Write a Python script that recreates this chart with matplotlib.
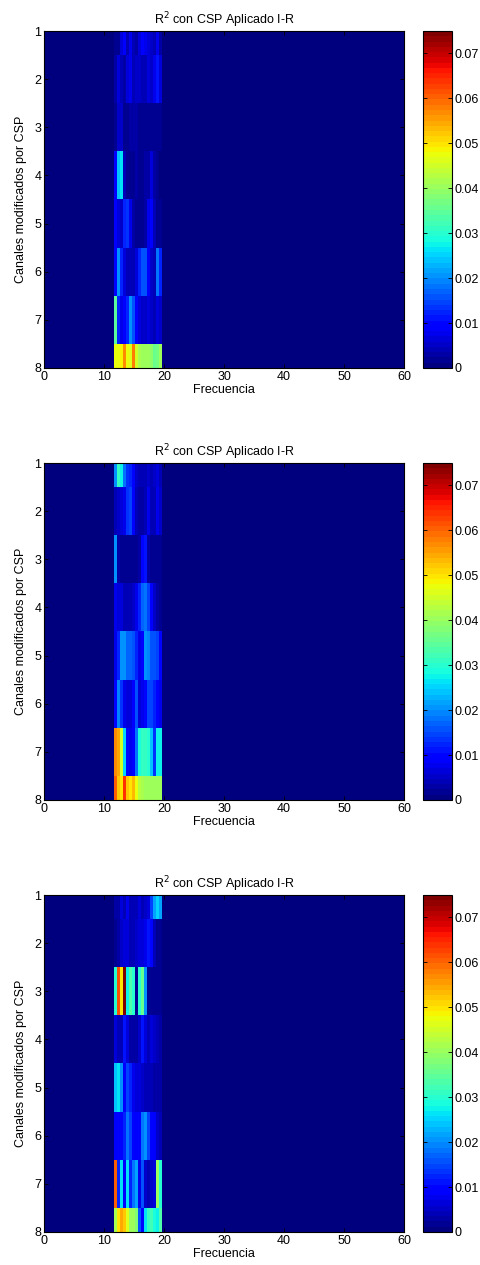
import numpy as np
import matplotlib
matplotlib.use('Agg')
import matplotlib.pyplot as plt

plt.rcParams['font.family'] = ['Liberation Sans', 'DejaVu Sans']
plt.rcParams['font.size'] = 9

# Frecuencias (resolucion 0.5 Hz) y canales
freqs = np.arange(0, 60.5, 0.5)
canales = [1, 2, 3, 4, 5, 6, 7, 8]
banda_inicio = 12.0   # primera frecuencia con valores de R^2

# Valores de R^2 en la banda 12 - 19.5 Hz (16 columnas) por canal
r2_panel1 = [
    [0.002, 0.002, 0.007, 0.009, 0.004, 0.008, 0.004, 0.003, 0.006, 0.009, 0.008, 0.006, 0.005, 0.004, 0.008, 0.003],
    [0.003, 0.007, 0.004, 0.003, 0.006, 0.008, 0.004, 0.005, 0.005, 0.004, 0.004, 0.006, 0.005, 0.008, 0.011, 0.006],
    [0.002, 0.005, 0.005, 0.002, 0.002, 0.003, 0.003, 0.003, 0.002, 0.002, 0.002, 0.002, 0.002, 0.002, 0.002, 0.002],
    [0.010, 0.024, 0.026, 0.004, 0.002, 0.002, 0.002, 0.003, 0.002, 0.002, 0.003, 0.003, 0.006, 0.003, 0.002, 0.001],
    [0.009, 0.007, 0.005, 0.012, 0.013, 0.008, 0.003, 0.002, 0.002, 0.002, 0.003, 0.008, 0.009, 0.004, 0.002, 0.002],
    [0.010, 0.020, 0.012, 0.006, 0.004, 0.004, 0.004, 0.006, 0.012, 0.016, 0.016, 0.009, 0.005, 0.004, 0.018, 0.012],
    [0.034, 0.012, 0.008, 0.009, 0.012, 0.020, 0.016, 0.009, 0.006, 0.005, 0.005, 0.006, 0.005, 0.004, 0.006, 0.005],
    [0.047, 0.048, 0.049, 0.057, 0.048, 0.046, 0.058, 0.045, 0.042, 0.041, 0.041, 0.040, 0.039, 0.036, 0.037, 0.040],
]
r2_panel2 = [
    [0.020, 0.031, 0.028, 0.018, 0.013, 0.012, 0.010, 0.005, 0.004, 0.004, 0.004, 0.005, 0.004, 0.005, 0.007, 0.004],
    [0.004, 0.005, 0.007, 0.008, 0.014, 0.015, 0.009, 0.004, 0.003, 0.003, 0.004, 0.008, 0.004, 0.004, 0.008, 0.005],
    [0.020, 0.003, 0.002, 0.002, 0.002, 0.002, 0.002, 0.002, 0.003, 0.010, 0.011, 0.003, 0.002, 0.002, 0.002, 0.002],
    [0.008, 0.007, 0.006, 0.004, 0.004, 0.004, 0.005, 0.008, 0.012, 0.017, 0.018, 0.015, 0.009, 0.005, 0.003, 0.002],
    [0.008, 0.012, 0.020, 0.021, 0.017, 0.017, 0.016, 0.012, 0.008, 0.009, 0.020, 0.019, 0.016, 0.016, 0.015, 0.010],
    [0.010, 0.019, 0.013, 0.008, 0.006, 0.006, 0.009, 0.016, 0.007, 0.008, 0.010, 0.015, 0.015, 0.012, 0.010, 0.008],
    [0.057, 0.054, 0.045, 0.025, 0.010, 0.008, 0.009, 0.018, 0.029, 0.031, 0.031, 0.030, 0.024, 0.014, 0.028, 0.027],
    [0.060, 0.052, 0.050, 0.064, 0.052, 0.050, 0.053, 0.047, 0.043, 0.042, 0.041, 0.041, 0.041, 0.040, 0.041, 0.040],
]
r2_panel3 = [
    [0.003, 0.003, 0.006, 0.004, 0.008, 0.004, 0.004, 0.004, 0.007, 0.004, 0.005, 0.006, 0.015, 0.022, 0.025, 0.022],
    [0.002, 0.003, 0.005, 0.007, 0.006, 0.004, 0.004, 0.005, 0.007, 0.006, 0.008, 0.011, 0.010, 0.004, 0.002, 0.002],
    [0.030, 0.062, 0.050, 0.074, 0.028, 0.033, 0.030, 0.002, 0.030, 0.036, 0.020, 0.002, 0.002, 0.002, 0.002, 0.002],
    [0.006, 0.004, 0.004, 0.011, 0.006, 0.003, 0.003, 0.003, 0.005, 0.011, 0.006, 0.004, 0.007, 0.005, 0.004, 0.003],
    [0.024, 0.026, 0.020, 0.009, 0.015, 0.012, 0.008, 0.007, 0.006, 0.005, 0.004, 0.004, 0.004, 0.003, 0.003, 0.003],
    [0.009, 0.009, 0.010, 0.012, 0.018, 0.015, 0.010, 0.009, 0.010, 0.018, 0.020, 0.015, 0.010, 0.009, 0.005, 0.004],
    [0.060, 0.012, 0.026, 0.010, 0.026, 0.012, 0.018, 0.022, 0.008, 0.016, 0.005, 0.004, 0.005, 0.006, 0.040, 0.030],
    [0.042, 0.050, 0.054, 0.052, 0.046, 0.040, 0.040, 0.038, 0.016, 0.010, 0.026, 0.031, 0.032, 0.029, 0.028, 0.033],
]
paneles = [r2_panel1, r2_panel2, r2_panel3]

titulo = 'R$^2$ con CSP Aplicado I-R'
vmax = 0.075
cb_ticks = [0, 0.01, 0.02, 0.03, 0.04, 0.05, 0.06, 0.07]
cb_labels = ['0', '0.01', '0.02', '0.03', '0.04', '0.05', '0.06', '0.07']

W, H = 481, 1265
fig = plt.figure(figsize=(W / 100, H / 100), dpi=100)
cmap = plt.get_cmap('jet', 64)

tops = [31, 463, 895]
alto = 337
df = freqs[1] - freqs[0]
i0 = int(np.searchsorted(freqs, banda_inicio))

for top, datos in zip(tops, paneles):
    datos = np.array(datos)
    Z = np.zeros((len(canales), len(freqs)))
    Z[:, i0:i0 + datos.shape[1]] = datos

    ax = fig.add_axes([44 / W, 1 - (top + alto) / H, 360 / W, alto / H])
    im = ax.imshow(Z, cmap=cmap, vmin=0, vmax=vmax, aspect='auto', interpolation='nearest',
                   extent=(freqs[0] - df / 2, freqs[-1] + df / 2, canales[-1] + 0.5, canales[0] - 0.5))
    ax.set_xlim(0, 60)
    ax.set_ylim(canales[-1], canales[0])
    ax.set_xticks([0, 10, 20, 30, 40, 50, 60])
    ax.set_yticks(canales)
    ax.tick_params(direction='in', top=True, right=True, length=3, width=0.6, labelsize=9, pad=2)
    for s in ax.spines.values():
        s.set_linewidth(0.8)
    ax.set_title(titulo, fontsize=9, pad=5)
    ax.set_xlabel('Frecuencia', fontsize=9, labelpad=1)
    ax.set_ylabel('Canales modificados por CSP', fontsize=9, labelpad=5)

    cax = fig.add_axes([423 / W, 1 - (top + alto) / H, 29 / W, alto / H])
    cb = fig.colorbar(im, cax=cax)
    cb.set_ticks(cb_ticks)
    cb.set_ticklabels(cb_labels)
    cb.outline.set_linewidth(0.8)
    cax.tick_params(direction='in', left=True, right=True, length=3, width=0.6, labelsize=9, pad=2)

fig.savefig('out.png', dpi=100)
